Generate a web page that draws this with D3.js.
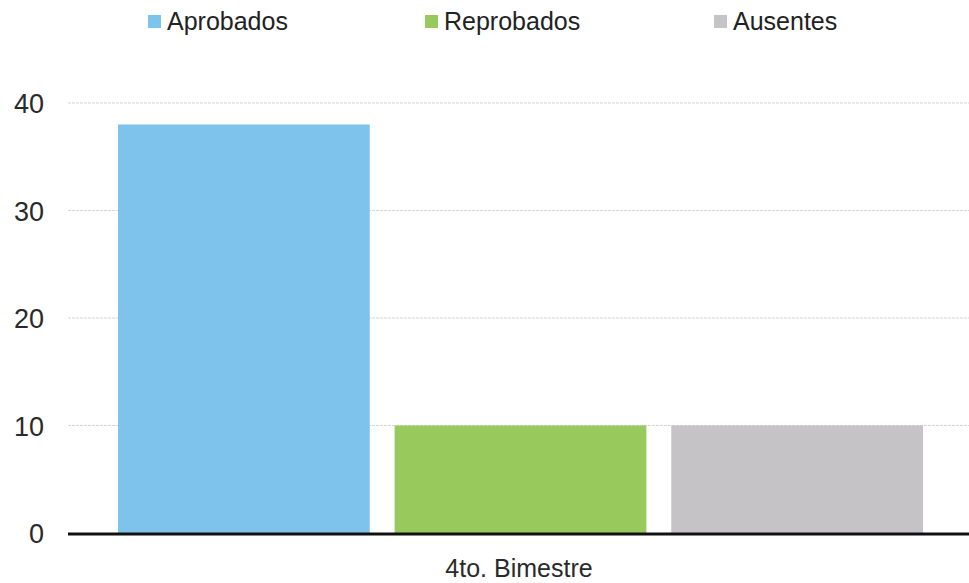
<!DOCTYPE html>
<html>
<head>
<meta charset="utf-8">
<script src="https://cdn.jsdelivr.net/npm/d3@7"></script>
<style>
  body { margin: 0; background: #fff; }
  text { font-family: "Liberation Sans", Arial, sans-serif; }
</style>
</head>
<body>
<div class="chart"></div>
<script>
// data
var categories = ["4to. Bimestre"];
var series = ["Aprobados", "Reprobados", "Ausentes"];
var values = [38, 10, 10];
var colors = ["#7dc3ec", "#97c95c", "#c5c3c6"];
var yTicks = [0, 10, 20, 30, 40];

var W = 969, H = 583;
var svg = d3.select(".chart").append("svg")
	.attr("width", W)
	.attr("height", H);

var plotL = 68, plotR = 969, plotT = 103, plotB = 533;

var y = d3.scaleLinear().domain([0, 40]).range([plotB, plotT]);
var x0 = d3.scaleBand().domain(categories).range([118, 923]);
var x1 = d3.scaleBand().domain(series).range([0, x0.bandwidth()]).paddingInner(0.09);

// gridlines
svg.append("g")
	.selectAll("line")
	.data(yTicks.filter(function(d) { return d > 0; }))
	.enter().append("line")
	.attr("x1", plotL).attr("x2", plotR)
	.attr("y1", function(d) { return y(d); })
	.attr("y2", function(d) { return y(d); })
	.style("stroke", "#d4d4d4")
	.style("stroke-width", 1.2)
	.style("stroke-dasharray", "3,1");

// y axis labels
var yAxis = d3.axisLeft(y).tickValues(yTicks).tickSize(0).tickPadding(0);
var ya = svg.append("g").attr("transform", "translate(44,0)").call(yAxis);
ya.select(".domain").remove();
ya.selectAll("text")
	.attr("font-family", null)
	.style("font-size", "27px")
	.style("fill", "#2a2a2a")
	.attr("dy", "0.36em");

// bars
var g = svg.append("g");
g.selectAll("rect")
	.data(series)
	.enter().append("rect")
	.attr("x", function(d) { return x0(categories[0]) + x1(d); })
	.attr("width", x1.bandwidth())
	.attr("y", function(d, i) { return y(values[i]); })
	.attr("height", function(d, i) { return plotB - y(values[i]); })
	.style("fill", function(d, i) { return colors[i]; });

// x axis baseline
svg.append("line")
	.attr("x1", plotL).attr("x2", plotR)
	.attr("y1", plotB + 1).attr("y2", plotB + 1)
	.style("stroke", "#111")
	.style("stroke-width", 3);

// category label
svg.append("text")
	.attr("x", 519)
	.attr("y", 577)
	.attr("text-anchor", "middle")
	.style("font-size", "25px")
	.style("fill", "#2a2a2a")
	.text(categories[0]);

// legend
var legendX = [148, 425, 714];
var leg = svg.append("g").selectAll("g")
	.data(series)
	.enter().append("g")
	.attr("transform", function(d, i) { return "translate(" + legendX[i] + ",0)"; });
leg.append("rect")
	.attr("x", 0).attr("y", 15)
	.attr("width", 13).attr("height", 13)
	.style("fill", function(d, i) { return colors[i]; });
leg.append("text")
	.attr("x", 19).attr("y", 30)
	.style("font-size", "25px")
	.style("fill", "#222")
	.text(function(d) { return d; });
</script>
</body>
</html>
